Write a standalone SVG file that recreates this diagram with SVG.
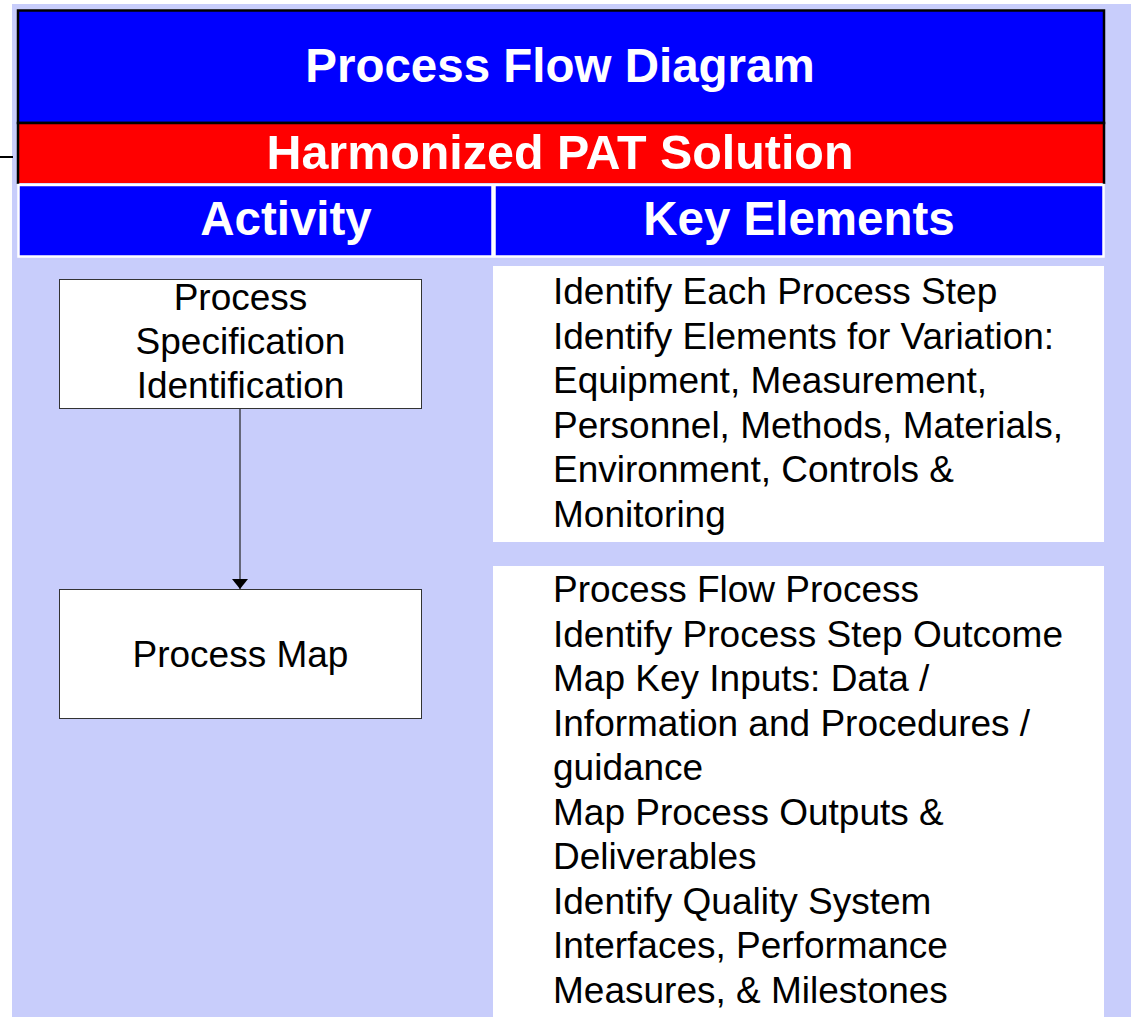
<svg xmlns="http://www.w3.org/2000/svg" width="1131" height="1017" viewBox="0 0 1131 1017">
  <style>
    .hdr { font-family: "Liberation Sans", Arial, sans-serif; font-weight: bold; font-size: 47.5px; fill: #ffffff; text-anchor: middle; }
    .body { font-family: "Liberation Sans", Arial, sans-serif; font-size: 37px; fill: #000000; }
    .node-box { fill: #ffffff; stroke: #333333; stroke-width: 1; }
    .panel { fill: #ffffff; }
    .conn { stroke: #222222; stroke-width: 1.2; fill: none; }
  </style>
  <defs>
    <marker id="arrow" markerWidth="10" markerHeight="16" refX="10" refY="8" orient="auto" markerUnits="userSpaceOnUse" viewBox="0 0 10 16">
      <path d="M0,0 L10,8 L0,16 Z" fill="#000000"/>
    </marker>
  </defs>

  <!-- page -->
  <rect x="0" y="0" width="1131" height="1017" fill="#ffffff"/>
  <rect x="12" y="4" width="1119" height="1013" fill="#c8cdfb"/>
  <line x1="0" y1="157" x2="13" y2="157" stroke="#000000" stroke-width="2"/>

  <!-- title band -->
  <g id="title">
    <rect x="18" y="10.5" width="1086" height="112.5" fill="#0000ff" stroke="#000000" stroke-width="2.5"/>
    <text class="hdr" x="560" y="82">Process Flow Diagram</text>
  </g>
  <g id="subtitle">
    <rect x="18" y="123" width="1086" height="60" fill="#ff0000"/>
    <path d="M18,184 V123 H1104 V184" fill="none" stroke="#000000" stroke-width="2.5"/>
    <text class="hdr" x="560" y="169" style="font-size:48.4px">Harmonized PAT Solution</text>
  </g>

  <!-- column headings -->
  <g id="col-activity">
    <rect x="18.5" y="185" width="474" height="71.5" fill="#0000ff" stroke="#ffffff" stroke-width="2.5"/>
    <text class="hdr" x="286" y="235">Activity</text>
  </g>
  <g id="col-key-elements">
    <rect x="494.5" y="185" width="609" height="71.5" fill="#0000ff" stroke="#ffffff" stroke-width="2.5"/>
    <text class="hdr" x="799" y="235">Key Elements</text>
  </g>

  <!-- activity nodes -->
  <g id="node-spec">
    <rect class="node-box" x="59.5" y="279.5" width="362" height="129"/>
    <text class="body" text-anchor="middle" x="240.5" y="310">Process</text>
    <text class="body" text-anchor="middle" x="240.5" y="354">Specification</text>
    <text class="body" text-anchor="middle" x="240.5" y="398">Identification</text>
  </g>
  <g id="node-map">
    <rect class="node-box" x="59.5" y="589.5" width="362" height="129"/>
    <text class="body" text-anchor="middle" x="240.5" y="667">Process Map</text>
  </g>

  <!-- connectors -->
  <g id="connectors">
    <line class="conn" x1="240" y1="409" x2="240" y2="589" marker-end="url(#arrow)"/>
  </g>

  <!-- key element panels -->
  <g id="elements-spec">
    <rect class="panel" x="493" y="266" width="611" height="276"/>
    <text class="body" x="553" y="304">Identify Each Process Step</text>
    <text class="body" x="553" y="348.5">Identify Elements for Variation:</text>
    <text class="body" x="553" y="393">Equipment, Measurement,</text>
    <text class="body" x="553" y="437.5">Personnel, Methods, Materials,</text>
    <text class="body" x="553" y="482">Environment, Controls &amp;</text>
    <text class="body" x="553" y="526.5">Monitoring</text>
  </g>
  <g id="elements-map">
    <rect class="panel" x="493" y="566" width="611" height="451"/>
    <text class="body" x="553" y="602">Process Flow Process</text>
    <text class="body" x="553" y="646.5">Identify Process Step Outcome</text>
    <text class="body" x="553" y="691">Map Key Inputs: Data /</text>
    <text class="body" x="553" y="735.5">Information and Procedures /</text>
    <text class="body" x="553" y="780">guidance</text>
    <text class="body" x="553" y="824.5">Map Process Outputs &amp;</text>
    <text class="body" x="553" y="869">Deliverables</text>
    <text class="body" x="553" y="913.5">Identify Quality System</text>
    <text class="body" x="553" y="958">Interfaces, Performance</text>
    <text class="body" x="553" y="1002.5">Measures, &amp; Milestones</text>
  </g>
</svg>
